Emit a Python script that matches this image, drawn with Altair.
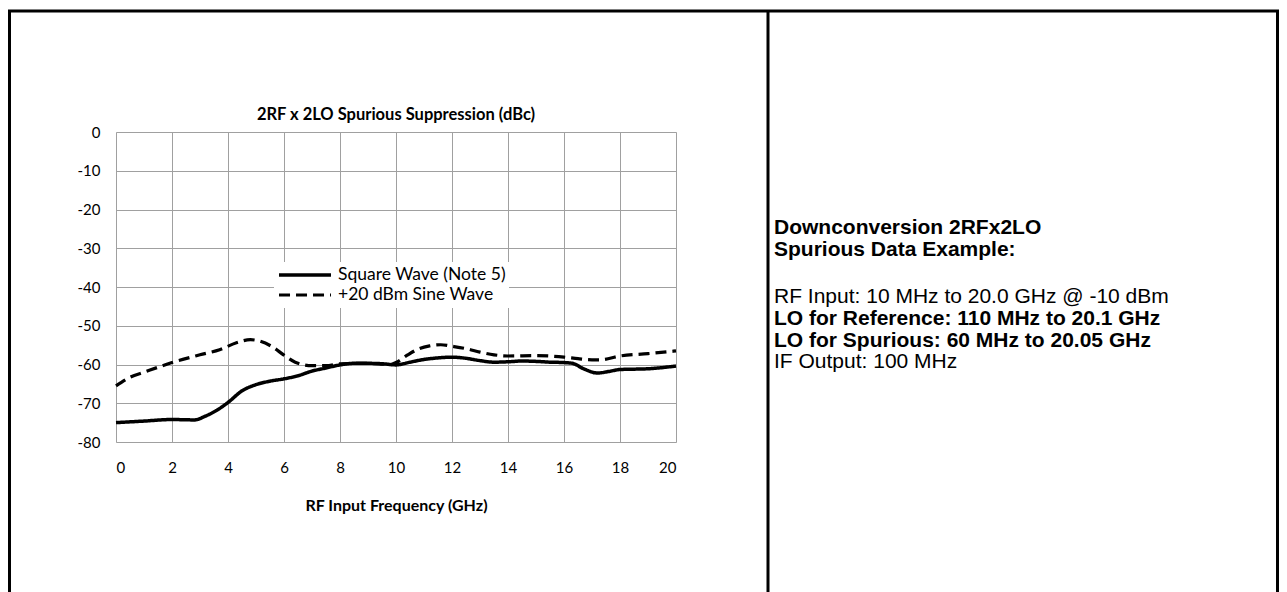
import altair as alt
import pandas as pd

# ---- data ----
series_names = ["Square Wave (Note 5)", "+20 dBm Sine Wave"]

freq_square = [0, 1, 2, 2.8, 3.2, 3.6, 4, 4.5, 5, 5.5, 6, 6.5, 7, 7.5, 8, 8.5, 9, 9.5, 10, 10.5,
               11, 11.5, 12, 12.5, 13, 13.5, 14, 14.5, 15, 15.5, 16, 16.3, 16.7, 17.2, 17.6, 18, 19, 20]
square_vals = [-75.0, -74.6, -74.2, -74.3, -73.3, -71.8, -69.8, -66.8, -65.2, -64.3,
               -63.7, -62.9, -61.7, -60.9, -60.1, -59.7, -59.7, -59.8, -60.1, -59.4,
               -58.7, -58.3, -58.1, -58.4, -59.0, -59.4, -59.3, -59.1, -59.2, -59.4,
               -59.5, -59.7, -61.1, -62.2, -61.8, -61.3, -61.1, -60.4]

freq_sine = [0, 0.5, 1, 2, 3, 3.7, 4.3, 4.8, 5.1, 5.6, 6, 6.4, 7, 7.5, 8, 9, 9.8, 10, 10.4, 10.8,
             11.2, 11.6, 12, 12.5, 13, 13.5, 14, 15, 16, 16.5, 17, 17.3, 18, 19, 20]
sine_vals = [-65.5, -63.3, -62.0, -59.5, -57.5, -56.2, -54.4, -53.6, -53.9, -55.5,
             -57.6, -59.4, -60.3, -60.3, -59.8, -59.7, -60.0, -59.5, -57.6, -56.0,
             -55.2, -54.9, -55.3, -55.9, -56.8, -57.5, -57.8, -57.7, -58.1, -58.5,
             -58.8, -58.8, -57.8, -57.2, -56.5]

x_ticks = [0, 2, 4, 6, 8, 10, 12, 14, 16, 18, 20]
y_ticks = [0, -10, -20, -30, -40, -50, -60, -70, -80]

chart_title = "2RF x 2LO Spurious Suppression (dBc)"
x_title = "RF Input Frequency (GHz)"

side_lines = [
    ("Downconversion 2RFx2LO", "bold"),
    ("Spurious Data Example:", "bold"),
    ("RF Input: 10 MHz to 20.0 GHz @ -10 dBm", "normal"),
    ("LO for Reference: 110 MHz to 20.1 GHz", "bold"),
    ("LO for Spurious: 60 MHz to 20.05 GHz", "bold"),
    ("IF Output: 100 MHz", "normal"),
]
side_y = [96, 118, 165, 187, 209, 230]  # layout positions (px) relative to plot top

df = pd.concat([
    pd.DataFrame({"freq": freq_square, "val": square_vals, "series": series_names[0], "order": range(len(freq_square))}),
    pd.DataFrame({"freq": freq_sine, "val": sine_vals, "series": series_names[1], "order": range(len(freq_sine))}),
])

FONT = "Lato"

lines = alt.Chart(df).mark_line(interpolate="monotone", color="black").encode(
    x=alt.X("freq:Q",
            scale=alt.Scale(domain=[0, 20], nice=False, zero=False),
            axis=alt.Axis(values=x_ticks, title=x_title, ticks=False, domain=False,
                          labelExpr="'' + datum.value",
                          labelFont=FONT, labelFontSize=15, labelColor="black", labelPadding=18,
                          titleFont=FONT, titleFontSize=16, titleFontWeight="bold", titleColor="black",
                          titlePadding=22, gridColor="#a0a0a0", gridWidth=1, gridOpacity=1)),
    y=alt.Y("val:Q",
            scale=alt.Scale(domain=[-80, 0], nice=False),
            axis=alt.Axis(values=y_ticks, title=None, ticks=False, domain=False,
                          labelExpr="'' + datum.value",
                          labelFont=FONT, labelFontSize=15, labelColor="black", labelPadding=16,
                          gridColor="#a0a0a0", gridWidth=1, gridOpacity=1)),
    strokeDash=alt.StrokeDash("series:N",
                              scale=alt.Scale(domain=series_names, range=[[1, 0], [11, 6]]),
                              legend=alt.Legend(title=None, orient="none", legendX=158, legendY=130,
                                                fillColor="white", padding=3, clipHeight=20,
                                                symbolType="stroke", symbolSize=2700,
                                                symbolStrokeWidth=3.5, symbolStrokeColor="black",
                                                labelFont=FONT, labelFontSize=17.5, labelColor="black",
                                                labelLimit=400, labelOffset=5, rowPadding=0)),
    strokeWidth=alt.StrokeWidth("series:N",
                                scale=alt.Scale(domain=series_names, range=[3.5, 3.2]),
                                legend=None),
    order="order:Q",
)

one = pd.DataFrame({"k": [0]})
frame_color = "black"
frame = [
    alt.Chart(one).mark_rule(color=frame_color, strokeWidth=3).encode(
        x=alt.value(-108), x2=alt.value(1163), y=alt.value(-121)),
    alt.Chart(one).mark_rule(color=frame_color, strokeWidth=3).encode(
        x=alt.value(-106.5), y=alt.value(-122), y2=alt.value(470)),
    alt.Chart(one).mark_rule(color=frame_color, strokeWidth=3).encode(
        x=alt.value(652), y=alt.value(-122), y2=alt.value(470)),
    alt.Chart(one).mark_rule(color=frame_color, strokeWidth=3).encode(
        x=alt.value(1161.5), y=alt.value(-122), y2=alt.value(470)),
]

title_mark = alt.Chart(one).mark_text(align="center", baseline="middle", font=FONT, fontSize=16.5,
                                      fontWeight="bold", color="black").encode(
    x=alt.value(280), y=alt.value(-17), text=alt.value(chart_title))

texts = []
for (txt, weight), yy in zip(side_lines, side_y):
    texts.append(
        alt.Chart(one).mark_text(align="left", baseline="middle", font="Liberation Sans",
                                 fontSize=21, fontWeight=weight, color="black").encode(
            x=alt.value(658), y=alt.value(yy), text=alt.value(txt))
    )

chart = alt.layer(lines, *frame, title_mark, *texts).properties(
    width=560, height=310,
    padding={"left": 108, "top": 124, "right": 603, "bottom": 150},
    autosize=alt.AutoSizeParams(type="none"),
).configure_view(stroke="black", strokeWidth=2.5).configure(background="white")

chart.save("out.html", embed_options={"renderer": "svg", "actions": False})
